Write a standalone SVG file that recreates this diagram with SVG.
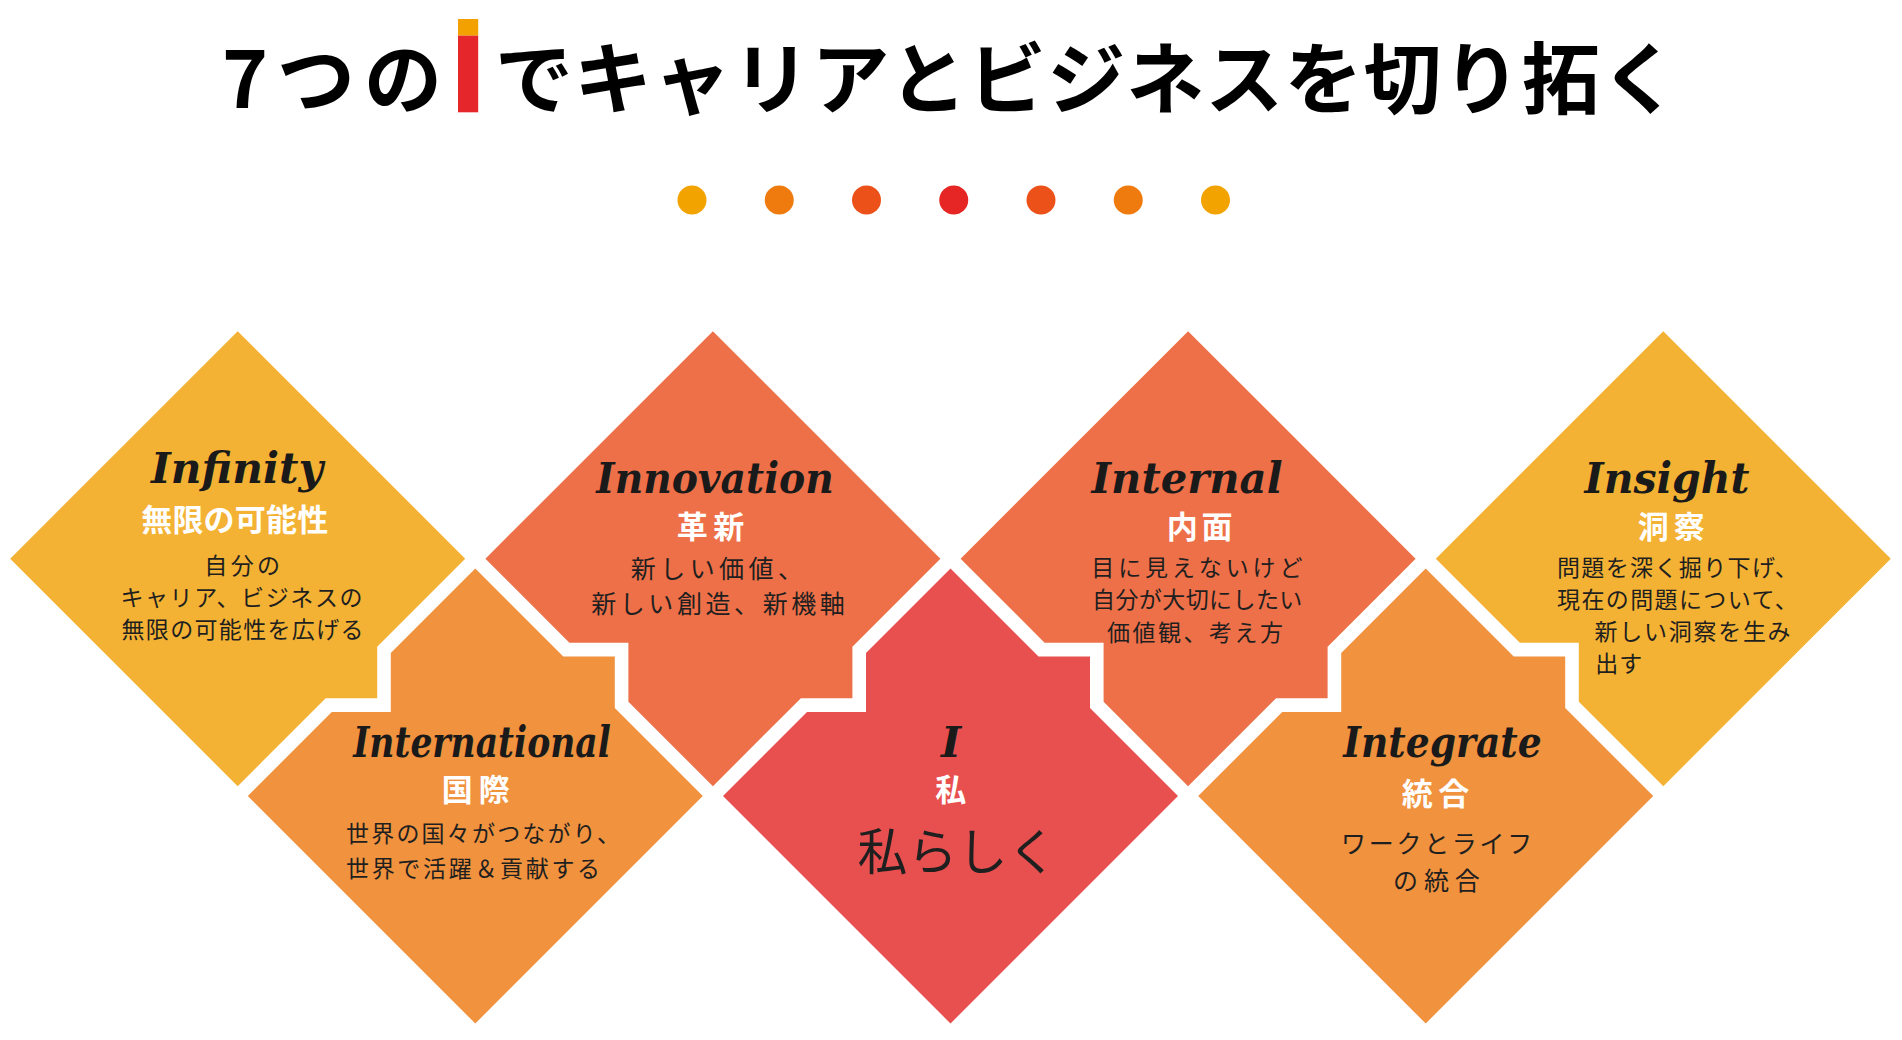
<svg xmlns="http://www.w3.org/2000/svg" xmlns:xlink="http://www.w3.org/1999/xlink" width="1902" height="1040" viewBox="0 0 1902 1040">
<style>
.ttl{font-family:"Noto Sans CJK JP","Noto Sans CJK SC",sans-serif;font-weight:700;font-size:78px;fill:#000}
.en{font-family:"DejaVu Serif",serif;font-weight:700;font-style:italic;font-size:43px;fill:#1a1a1a;text-anchor:middle}
.hd{font-family:"Noto Sans CJK JP","Noto Sans CJK SC",sans-serif;font-weight:700;font-size:31px;fill:#fff}
.bd{font-family:"Noto Sans CJK JP","Noto Sans CJK SC",sans-serif;font-weight:400;font-size:23px;fill:#1f1f1f}
.bd25{font-size:25px}
.yel{fill:#F4B234}
.cor{fill:#EE7048}
.org{fill:#F0923E}
.red{fill:#E85050}
</style>
<defs>
<path id="top-full" d="M0,-227.5 L227.5,0 L139.5,88 L139.5,139.5 L88,139.5 L0,227.5 L-84.5,143 L-84.5,84 L-143.5,84 L-227.5,0 Z"/>
<path id="top-tab" d="M0,-227.5 L227.5,0 L139.5,88 L139.5,139.5 L88,139.5 L0,227.5 L-227.5,0 Z"/>
<path id="top-notch" d="M0,-227.5 L227.5,0 L0,227.5 L-84.5,143 L-84.5,84 L-143.5,84 L-227.5,0 Z"/>
<path id="bottom-full" d="M0,-227.5 L88,-139.5 L139.5,-139.5 L139.5,-88 L227.5,0 L0,227.5 L-227.5,0 L-143.5,-84 L-84.5,-84 L-84.5,-143 Z"/>
</defs>
<rect width="1902" height="1040" fill="#fff"/>

<g id="title">
<text class="ttl" x="222" y="108" letter-spacing="9">7つの</text>
<rect x="458" y="19" width="20.2" height="16.7" fill="#F3A100"/>
<rect x="458" y="35.7" width="20.2" height="76.6" fill="#E5262A"/>
<text class="ttl" x="495" y="108" letter-spacing="1.1">でキャリアとビジネスを切り拓く</text>
</g>

<g id="dots">
<circle cx="692" cy="200" r="14.5" fill="#F3A300"/>
<circle cx="779.25" cy="200" r="14.5" fill="#EF7B0E"/>
<circle cx="866.5" cy="200" r="14.5" fill="#EC511A"/>
<circle cx="953.75" cy="200" r="14.5" fill="#E52625"/>
<circle cx="1041" cy="200" r="14.5" fill="#EC511A"/>
<circle cx="1128.25" cy="200" r="14.5" fill="#EF7B0E"/>
<circle cx="1215.5" cy="200" r="14.5" fill="#F3A300"/>
</g>

<g id="connectors"></g>

<g id="node-infinity">
<use href="#top-tab" x="237.7" y="558.7" class="yel"/>
<text class="en" x="237" y="482.7" textLength="172" lengthAdjust="spacingAndGlyphs">Infinity</text>
<text class="hd" x="141.2" y="531" textLength="187">無限の可能性</text>
<text class="bd" x="204.3" y="574.4" textLength="75.8">自分の</text>
<text class="bd" x="120.4" y="605.7" textLength="242.1">キャリア、ビジネスの</text>
<text class="bd" x="121.5" y="638.4" textLength="242">無限の可能性を広げる</text>
</g>

<g id="node-international">
<use href="#bottom-full" x="475.3" y="796" class="org"/>
<text class="en" x="482" y="756.7" textLength="257.7" lengthAdjust="spacingAndGlyphs">International</text>
<text class="hd" x="441.8" y="800.5" textLength="68">国際</text>
<text class="bd" x="346" y="841.7" textLength="274">世界の国々がつながり、</text>
<text class="bd" x="346" y="876.7" textLength="254.1">世界で活躍＆貢献する</text>
</g>

<g id="node-innovation">
<use href="#top-full" x="712.9" y="558.7" class="cor"/>
<text class="en" x="715" y="493.3" textLength="237.4" lengthAdjust="spacingAndGlyphs">Innovation</text>
<text class="hd" x="676.8" y="537.8" textLength="67.4">革新</text>
<text class="bd bd25" x="630.8" y="577.6" textLength="172.2">新しい価値、</text>
<text class="bd bd25" x="591.2" y="613.3" textLength="253.6">新しい創造、新機軸</text>
</g>

<g id="node-i">
<use href="#bottom-full" x="950.5" y="796" class="red"/>
<text class="en" x="951" y="756.7">I</text>
<text class="hd" x="950.7" y="800.5" text-anchor="middle">私</text>
<text class="bd" x="857.5" y="869.8" style="font-size:50px">私らしく</text>
</g>

<g id="node-internal">
<use href="#top-full" x="1188.1" y="558.7" class="cor"/>
<text class="en" x="1187" y="493.3" textLength="191" lengthAdjust="spacingAndGlyphs">Internal</text>
<text class="hd" x="1166.8" y="537.8" textLength="65.7">内面</text>
<text class="bd" x="1091.3" y="575.7" textLength="211.2">目に見えないけど</text>
<text class="bd" x="1092" y="607.7" textLength="210.3">自分が大切にしたい</text>
<text class="bd" x="1107" y="640.7" textLength="176.1">価値観、考え方</text>
</g>

<g id="node-integrate">
<use href="#bottom-full" x="1425.7" y="796" class="org"/>
<text class="en" x="1442.5" y="756.7" textLength="198.3" lengthAdjust="spacingAndGlyphs">Integrate</text>
<text class="hd" x="1401.8" y="804.5" textLength="67.4">統合</text>
<text class="bd bd25" x="1341" y="853.3" textLength="191.3">ワークとライフ</text>
<text class="bd bd25" x="1393" y="890" textLength="86.8">の統合</text>
</g>

<g id="node-insight">
<use href="#top-notch" x="1663.3" y="558.7" class="yel"/>
<text class="en" x="1667" y="493.3" textLength="165" lengthAdjust="spacingAndGlyphs">Insight</text>
<text class="hd" x="1637.8" y="537.8" textLength="67">洞察</text>
<text class="bd" x="1557" y="575.7" textLength="240.7">問題を深く掘り下げ、</text>
<text class="bd" x="1557" y="607.7" textLength="240.7">現在の問題について、</text>
<text class="bd" x="1594.6" y="640.1" textLength="196">新しい洞察を生み</text>
<text class="bd" x="1595.3" y="671.7" letter-spacing="1">出す</text>
</g>
</svg>
